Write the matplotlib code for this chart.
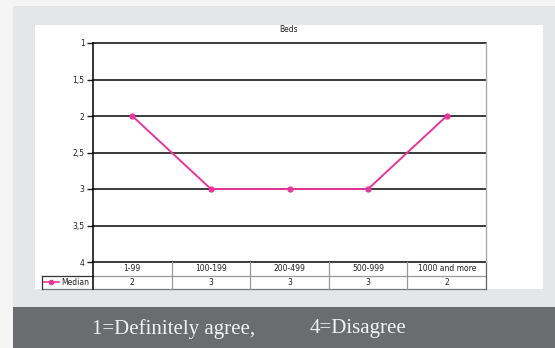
import matplotlib
matplotlib.use("Agg")
import matplotlib.pyplot as plt
from matplotlib.patches import Rectangle
from matplotlib.transforms import blended_transform_factory

# Data
categories = ["1-99", "100-199", "200-499", "500-999", "1000 and more"]
median = [2, 3, 3, 3, 2]
yticks = [1, 1.5, 2, 2.5, 3, 3.5, 4]
ytick_labels = ["1", "1,5", "2", "2,5", "3", "3,5", "4"]
series_name = "Median"
title = "Beds"
footer_left = "1=Definitely agree,"
footer_right = "4=Disagree"

W, H = 555, 348
LINE = "#e8359a"

fig = plt.figure(figsize=(W / 100, H / 100), dpi=100)
fig.patch.set_facecolor("#f5f5f5")


def fx(px):
    return px / W


def fy(py):
    return 1 - py / H


# background panels
for (x0, y0, x1, y1, col) in [(13, 6, W, 307, "#e5e6e8"),
                              (35, 25, 543, 289, "white"),
                              (13, 307, W, H, "#6b6c70")]:
    fig.patches.append(Rectangle((fx(x0), fy(y1)), fx(x1 - x0), (y1 - y0) / H,
                                 transform=fig.transFigure, facecolor=col,
                                 edgecolor="none", zorder=-5))

# plot area
left, right, top, bottom = 93, 486, 43, 262
ax = fig.add_axes([fx(left), fy(bottom), fx(right - left), (bottom - top) / H])
ax.set_zorder(2)
ax.set_facecolor("white")

x = list(range(len(categories)))
ax.plot(x, median, color=LINE, lw=1.4, marker="o", ms=3.5, zorder=3)

ax.set_xlim(-0.5, len(categories) - 0.5)
ax.set_ylim(4, 1)
ax.set_yticks(yticks)
ax.set_yticklabels(ytick_labels, fontsize=5.5, color="#222222")
ax.set_xticks([])
ax.tick_params(axis="y", length=4, width=1.0, color="#1a1a1a", pad=2)
for yv in yticks:
    ax.axhline(yv, color="#1a1a1a", lw=1.2, zorder=1, clip_on=False)

for side in ["top", "bottom"]:
    ax.spines[side].set_visible(False)
ax.spines["left"].set_color("black")
ax.spines["left"].set_linewidth(1.1)
ax.spines["right"].set_color("#aaaaaa")
ax.spines["right"].set_linewidth(1.0)

fig.text(fx(289), fy(30), title, fontsize=5.5, ha="center", va="center",
         color="#222222", zorder=3)

# data table beneath the axis
tr = blended_transform_factory(ax.transData, ax.transAxes)
rh = 13.5 / (bottom - top)
legend_left = -0.5 - (left - 42) / ((right - left) / len(categories))
xmax = len(categories) - 0.5
kw = dict(transform=tr, clip_on=False)

# horizontal rules
ax.plot([-0.5, xmax], [-rh, -rh], color="#999999", lw=0.9, **kw)
ax.plot([legend_left, -0.5], [-rh, -rh], color="#333333", lw=0.9, **kw)
ax.plot([legend_left, xmax], [-2 * rh, -2 * rh], color="#777777", lw=0.9, **kw)
# vertical rules
ax.plot([legend_left, legend_left], [-rh, -2 * rh], color="#333333", lw=0.9, **kw)
ax.plot([-0.5, -0.5], [0, -2 * rh], color="black", lw=1.1, **kw)
for i in range(1, len(categories)):
    ax.plot([i - 0.5, i - 0.5], [0, -2 * rh], color="#999999", lw=0.9, **kw)
ax.plot([xmax, xmax], [0, -2 * rh], color="#666666", lw=0.9, **kw)

for i, (c, v) in enumerate(zip(categories, median)):
    ax.text(i, -0.5 * rh, c, fontsize=5.5, ha="center", va="center",
            color="#222222", **kw)
    ax.text(i, -1.5 * rh, f"{v:g}", fontsize=5.5, ha="center", va="center",
            color="#222222", **kw)

# legend key inside the table
ax.plot([legend_left + 0.02, legend_left + 0.22], [-1.5 * rh] * 2, color=LINE,
        lw=1.2, **kw)
ax.plot([legend_left + 0.12], [-1.5 * rh], color=LINE, marker="o", ms=3, **kw)
ax.text(legend_left + 0.25, -1.5 * rh, series_name, fontsize=5.5, ha="left",
        va="center", color="#222222", **kw)

# footer
fig.text(fx(92), fy(329), footer_left, fontsize=15, family="Liberation Serif",
         color="#f2f2f2", ha="left", va="center", zorder=3)
fig.text(fx(310), fy(329), footer_right, fontsize=15, family="Liberation Serif",
         color="#f2f2f2", ha="left", va="center", zorder=3)

fig.savefig("out.png", dpi=100, facecolor=fig.get_facecolor())
